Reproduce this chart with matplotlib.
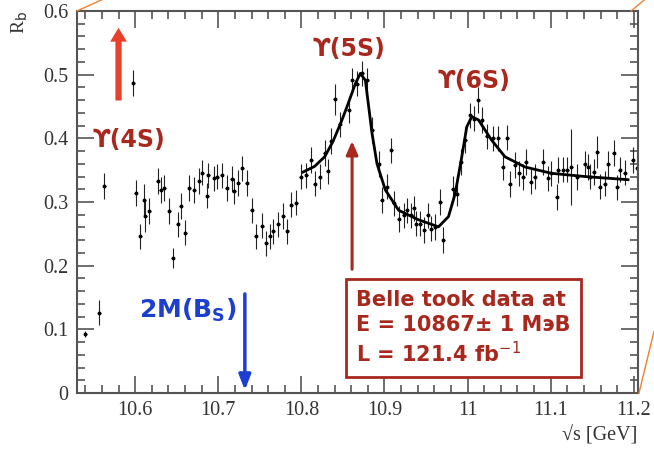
import numpy as np
import matplotlib.pyplot as plt
from matplotlib.lines import Line2D
from matplotlib.ticker import MultipleLocator

# measured R_b points (sqrt(s) in GeV)
energy = [10.540, 10.557, 10.563, 10.598, 10.601, 10.606, 10.611, 10.612, 10.617, 10.627,
          10.631, 10.635, 10.641, 10.645, 10.651, 10.655, 10.660, 10.665, 10.671, 10.677,
          10.681, 10.687, 10.688, 10.695, 10.699, 10.704, 10.710, 10.716, 10.719, 10.724,
          10.729, 10.734, 10.740, 10.745, 10.753, 10.758, 10.762, 10.766, 10.772, 10.778,
          10.783, 10.788, 10.794, 10.799, 10.806, 10.812, 10.816, 10.822, 10.828, 10.832,
          10.836, 10.840, 10.846, 10.857, 10.861, 10.867, 10.873, 10.879, 10.885, 10.893,
          10.897, 10.903, 10.908, 10.911, 10.917, 10.923, 10.927, 10.932, 10.935, 10.938,
          10.943, 10.948, 10.952, 10.956, 10.961, 10.967, 10.971, 10.982, 10.987, 10.992,
          10.997, 11.003, 11.008, 11.013, 11.017, 11.023, 11.031, 11.037, 11.042, 11.048,
          11.051, 11.057, 11.062, 11.067, 11.070, 11.076, 11.081, 11.091, 11.097, 11.100,
          11.107, 11.109, 11.115, 11.120, 11.125, 11.132, 11.141, 11.145, 11.147, 11.152,
          11.156, 11.159, 11.165, 11.169, 11.176, 11.180, 11.183, 11.189, 11.199, 11.204]
rb = [0.093, 0.126, 0.325, 0.487, 0.314, 0.246, 0.303, 0.278, 0.286, 0.333,
      0.319, 0.322, 0.286, 0.212, 0.265, 0.294, 0.252, 0.322, 0.319, 0.333,
      0.346, 0.310, 0.342, 0.337, 0.340, 0.342, 0.322, 0.336, 0.317, 0.330,
      0.353, 0.330, 0.287, 0.246, 0.263, 0.235, 0.246, 0.254, 0.265, 0.278,
      0.254, 0.296, 0.299, 0.340, 0.342, 0.366, 0.329, 0.340, 0.377, 0.348,
      0.396, 0.461, 0.422, 0.444, 0.491, 0.486, 0.502, 0.491, 0.413, 0.360,
      0.303, 0.324, 0.381, 0.298, 0.273, 0.279, 0.287, 0.279, 0.290, 0.266,
      0.266, 0.256, 0.279, 0.258, 0.261, 0.300, 0.240, 0.321, 0.313, 0.363,
      0.397, 0.436, 0.431, 0.460, 0.429, 0.403, 0.400, 0.400, 0.355, 0.401,
      0.328, 0.358, 0.345, 0.339, 0.363, 0.332, 0.340, 0.363, 0.337, 0.345,
      0.308, 0.350, 0.351, 0.351, 0.355, 0.339, 0.360, 0.355, 0.340, 0.347,
      0.379, 0.324, 0.329, 0.360, 0.377, 0.323, 0.351, 0.346, 0.366, 0.354]
rb_err = [0.005, 0.02, 0.02, 0.02, 0.02, 0.02, 0.025, 0.025, 0.02, 0.02,
          0.02, 0.02, 0.02, 0.015, 0.02, 0.02, 0.02, 0.02, 0.02, 0.02,
          0.02, 0.02, 0.02, 0.02, 0.02, 0.02, 0.02, 0.02, 0.02, 0.02,
          0.02, 0.02, 0.02, 0.02, 0.02, 0.02, 0.02, 0.02, 0.02, 0.02,
          0.02, 0.02, 0.02, 0.02, 0.02, 0.02, 0.02, 0.02, 0.02, 0.02,
          0.02, 0.025, 0.02, 0.02, 0.02, 0.02, 0.02, 0.02, 0.02, 0.02,
          0.02, 0.02, 0.02, 0.02, 0.02, 0.02, 0.02, 0.02, 0.02, 0.02,
          0.02, 0.02, 0.02, 0.02, 0.02, 0.02, 0.02, 0.02, 0.02, 0.02,
          0.02, 0.02, 0.02, 0.02, 0.02, 0.02, 0.02, 0.02, 0.02, 0.02,
          0.02, 0.02, 0.02, 0.02, 0.02, 0.02, 0.02, 0.02, 0.02, 0.02,
          0.02, 0.02, 0.02, 0.02, 0.06, 0.02, 0.02, 0.02, 0.02, 0.02,
          0.025, 0.02, 0.02, 0.02, 0.02, 0.02, 0.02, 0.02, 0.02, 0.02]

# fit curve
fit_x = [10.802, 10.816, 10.828, 10.838, 10.848, 10.855, 10.865, 10.871, 10.877, 10.885,
         10.891, 10.901, 10.917, 10.941, 10.965, 10.977, 10.985, 10.993, 10.999, 11.005,
         11.013, 11.029, 11.045, 11.069, 11.101, 11.141, 11.193]
fit_y = [0.347, 0.356, 0.371, 0.395, 0.426, 0.450, 0.486, 0.502, 0.491, 0.408,
         0.360, 0.319, 0.287, 0.272, 0.261, 0.277, 0.313, 0.371, 0.418, 0.434,
         0.429, 0.397, 0.371, 0.355, 0.345, 0.340, 0.335]

x_ticks = [10.6, 10.7, 10.8, 10.9, 11.0, 11.1, 11.2]
x_ticklabels = ['10.6', '10.7', '10.8', '10.9', '11', '11.1', '11.2']
y_ticks = [0, 0.1, 0.2, 0.3, 0.4, 0.5, 0.6]
y_ticklabels = ['0', '0.1', '0.2', '0.3', '0.4', '0.5', '0.6']

dark_red = '#a8281e'
serif = 'Liberation Serif'
axis_gray = '#555555'

fig = plt.figure(figsize=(6.54, 4.54), dpi=100)
ax = fig.add_axes([0.1177, 0.1344, 0.8578, 0.8414])

ax.errorbar(energy, rb, yerr=rb_err, xerr=0.0018, fmt='o', ms=1.8,
            color='black', ecolor='#222222', elinewidth=0.8, capsize=0)
ax.plot(fit_x, fit_y, color='black', lw=2)

ax.set_xlim(10.53, 11.205)
ax.set_ylim(0, 0.6)
ax.set_xticks(x_ticks)
ax.set_xticklabels(x_ticklabels)
ax.set_yticks(y_ticks)
ax.set_yticklabels(y_ticklabels)
ax.xaxis.set_minor_locator(MultipleLocator(0.02))
ax.yaxis.set_minor_locator(MultipleLocator(0.02))
ax.tick_params(which='both', direction='in', top=True, right=True,
               color=axis_gray, width=1.2)
ax.tick_params(which='major', length=12, labelsize=14.5, pad=6, labelcolor='#333333')
ax.tick_params(which='minor', length=6)
for lab in ax.get_xticklabels() + ax.get_yticklabels():
    lab.set_fontfamily(serif)
for s in ax.spines.values():
    s.set_color(axis_gray)
    s.set_linewidth(1.5)

fig.text(0.03, 0.975, 'R$_{\\rm b}$', rotation=90, ha='center', va='top',
         fontsize=14, family=serif, color='#333333')
fig.text(0.975, 0.04, '\u221as [GeV]', ha='right', va='center',
         fontsize=14.5, family=serif, color='#333333')

# resonance labels
lab_kw = dict(color=dark_red, fontsize=17, fontweight='bold', family='DejaVu Sans',
              ha='center', va='center')
ax.text(10.593, 0.397, '\u03d2(4S)', **lab_kw)
ax.text(10.857, 0.54, '\u03d2(5S)', **lab_kw)
ax.text(11.008, 0.49, '\u03d2(6S)', **lab_kw)

# red arrow up (Y(4S))
ax.annotate('', xy=(10.58, 0.578), xytext=(10.58, 0.455),
            arrowprops=dict(arrowstyle='simple,head_length=1.0,head_width=1.2,tail_width=0.45',
                            color='#e8412b', lw=0))

# dark red arrow to the 5S peak
ax.annotate('', xy=(10.861, 0.40), xytext=(10.861, 0.19),
            arrowprops=dict(arrowstyle='-|>,head_length=0.8,head_width=0.35',
                            color=dark_red, lw=2.2))

# Belle box
ax.text(10.866, 0.102, 'Belle took data at\nE = 10867\u00b1 1 \u041c\u044d\u0412\nL = 121.4 fb$^{-1}$',
        color=dark_red, fontsize=15, fontweight='bold', family='DejaVu Sans',
        ha='left', va='center', linespacing=1.3,
        bbox=dict(boxstyle='square,pad=0.5', fc='white', ec=dark_red, lw=2))

# blue 2M(Bs) arrow
blue = '#1c3fd0'
ax.annotate('', xy=(10.732, 0.0), xytext=(10.732, 0.16),
            arrowprops=dict(arrowstyle='-|>,head_length=0.9,head_width=0.35',
                            color=blue, lw=2.5))
ax.text(10.722, 0.13, '2M(B$_{\\mathbf{S}}$)', color=blue, fontsize=18,
        fontweight='bold', family='DejaVu Sans', ha='right', va='center')

# thin orange slide decoration lines
fig.lines.append(Line2D([0.118, 0.155], [0.976, 1.0], transform=fig.transFigure,
                        color='#f08030', lw=1))
fig.lines.append(Line2D([0.965, 0.985], [0.976, 1.0], transform=fig.transFigure,
                        color='#f08030', lw=1))
fig.lines.append(Line2D([0.977, 1.0], [0.134, 0.27], transform=fig.transFigure,
                        color='#f08030', lw=1))

fig.savefig('out.png', dpi=100)
